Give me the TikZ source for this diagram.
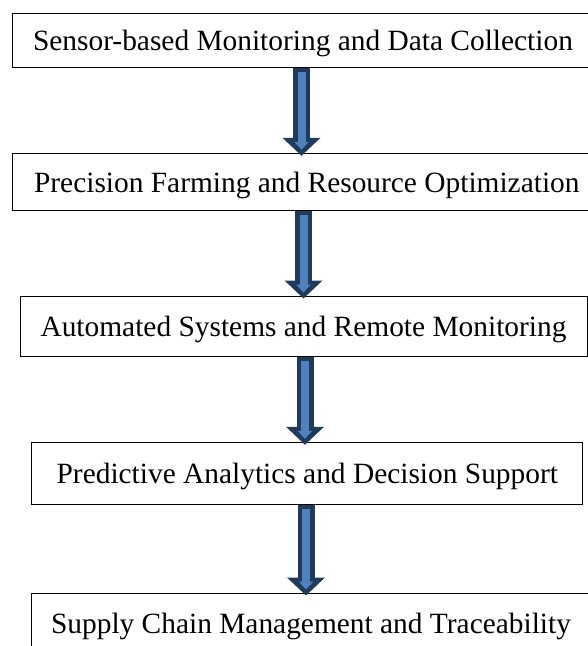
\documentclass[tikz,border=0pt]{standalone}
\usepackage{fontspec}
\setmainfont{Liberation Serif}
\usetikzlibrary{arrows.meta}
\definecolor{arrowfill}{HTML}{4F81BD}
\definecolor{arrowline}{HTML}{203A5C}

\begin{document}
\begin{tikzpicture}[x=1pt, y=-1pt,
                    box/.style={draw, rectangle, line width=1pt, inner sep=0pt, text depth=0pt,
                                font=\fontsize{29.4}{32}\selectfont},
                    flow/.style={draw=arrowfill, line width=8pt,
                                 -{Triangle[width=14pt,length=8pt]},
                                 shorten <=4.5pt, shorten >=6pt,
                                 preaction={draw=arrowline, line width=17pt,
                                            -{Triangle[width=37pt,length=18pt]},
                                            shorten <=0pt, shorten >=0pt}}]

      \useasboundingbox (0,0) rectangle (588,646);

      \node[box, minimum width=580.6pt, minimum height=53.7pt] (1) at (303,40.2) {Sensor-based Monitoring and Data Collection};
      \node[box, minimum width=588.3pt, minimum height=57pt] (2) at (306.8,181.8) {Precision Farming and Resource Optimization};
      \node[box, minimum width=567pt, minimum height=60pt] (3) at (303.5,326) {Automated Systems and Remote Monitoring};
      \node[box, minimum width=551.3pt, minimum height=62pt] (4) at (307.3,473.3) {Predictive Analytics and Decision Support};
      \node[box, minimum width=558.6pt, minimum height=60pt] (5) at (311,623) {Supply Chain Management and Traceability};

      \draw[flow] ([xshift=-1.5pt]1.south) -- ([xshift=-5.3pt, yshift=-3pt]2.north);
      \draw[flow] ([xshift=-3.3pt]2.south) -- ([yshift=-3pt]3.north);
      \draw[flow] ([xshift=1.5pt]3.south) -- ([xshift=-2.3pt, yshift=-3pt]4.north);
      \draw[flow] ([xshift=-1.3pt]4.south) -- ([xshift=-5pt, yshift=-3pt]5.north);

    \end{tikzpicture}
\end{document}
